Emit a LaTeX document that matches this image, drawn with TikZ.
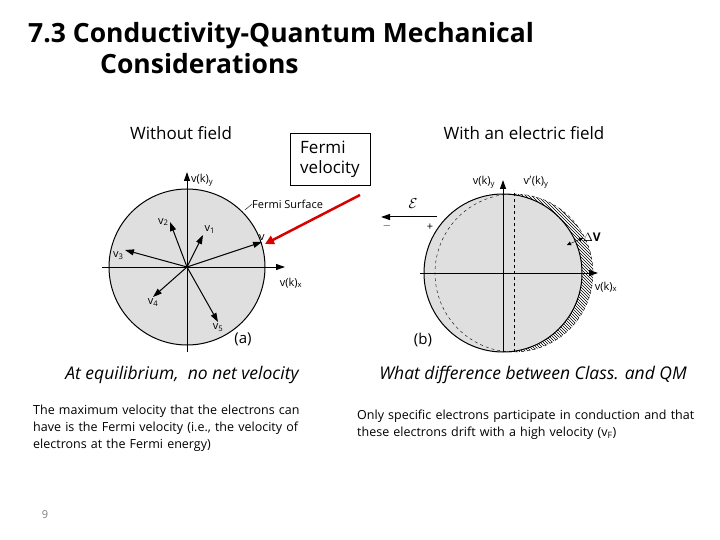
\documentclass[tikz,border=0pt]{standalone}
\usepackage{fontspec}
\setmainfont{Open Sans}
\usetikzlibrary{patterns,arrows.meta}
\newcommand{\sbs}[1]{\textsubscript{#1}}
\tikzset{vec/.style={-{Triangle[length=9pt,width=6pt]},line width=1pt}}
\begin{document}
\begin{tikzpicture}[x=1pt,y=-1pt,
  lbl/.style={font=\fontsize{11}{12}\selectfont,inner sep=1pt},
  hd/.style={font=\fontsize{17}{20}\selectfont},
  it/.style={font=\fontsize{17.5}{19}\selectfont\itshape},
  para/.style={font=\fontsize{12.5}{17}\selectfont,align=left,text width=290pt,inner sep=0pt}]
\useasboundingbox (0,0) rectangle (720,540);
\node[anchor=north west,font=\fontsize{26.5}{31}\selectfont\bfseries,align=left,inner sep=0pt] (title) at (28,22) {7.3 Conductivity-Quantum Mechanical\\\hspace{72pt}Considerations};
\node[hd] (wf) at (181,133) {Without field};
\node[hd] (ef) at (524,133) {With an electric field};
\node[draw,hd,align=left,minimum width=80pt,minimum height=52pt,inner sep=2pt] (fv) at (330,159) {Fermi\\velocity};
% left
\fill[gray!25] (187,267) circle (78);
\draw[line width=1pt] (187,267) circle (78);
\coordinate (o) at (187,267);
\coordinate (yb) at (187,352); \coordinate (yt) at (187,172);
\coordinate (xl) at (102,267); \coordinate (xr) at (285,267);
\draw[vec] (yb) -- (yt);
\node[lbl,anchor=west] (vy) at (190,180) {v(k)\sbs{y}};
\draw[vec] (xl) -- (xr);
\node[lbl] (vx) at (291,283) {v(k)\sbs{x}};
\draw[vec] (o) -- (203,235) node[lbl,anchor=south west] (v1) {v\sbs{1}};
\draw[vec] (o) -- (170,222) node[lbl,anchor=east] (v2) {v\sbs{2}};
\draw[vec] (o) -- (125,250) node[lbl,anchor=north east] (v3) {v\sbs{3}};
\draw[vec] (o) -- (153,297) node[lbl,anchor=north] (v4) {v\sbs{4}};
\draw[vec] (o) -- (218,322) node[lbl,anchor=north] (v5) {v\sbs{5}};
\draw[vec] (o) -- (262,242) node[lbl,anchor=south] (vf) {v};
\draw (245,210) -- (252,204);
\node[lbl,anchor=west] (fs) at (251,204) {Fermi Surface};
\node[font=\fontsize{15}{16}\selectfont] (a) at (243,339) {(a)};
\coordinate (rs) at (360,195); \coordinate (re) at (265,244);
\draw[red!85!black,line width=2.5pt,-{Triangle[length=9pt,width=9pt]}] (rs) -- (re);
% right
\fill[gray!25] (503,273) circle (79);
\begin{scope}
\clip (503,180) rectangle (620,360);
\fill[pattern=north west lines,even odd rule] (514,273) circle (79) (503,273) circle (79);
\end{scope}
\draw[line width=1pt] (503,273) circle (79);
\draw[dashed] (514,273) circle (79);
\coordinate (yb2) at (503,352); \coordinate (yt2) at (503,180);
\coordinate (xl2) at (420,273); \coordinate (xr2) at (598,273);
\draw[vec] (yb2) -- (yt2);
\draw[dashed] (514,352) -- (514,190);
\draw[vec] (xl2) -- (xr2);
\node[lbl] (vy2) at (484,182) {v(k)\sbs{y}};
\node[lbl] (vy3) at (536,182) {v$'$(k)\sbs{y}};
\node[lbl] (vx2) at (606,287) {v(k)\sbs{x}};
\coordinate (d1) at (567,245); \coordinate (d2) at (583,238);
\draw[{Triangle[length=4pt,width=4pt]}-{Triangle[length=4pt,width=4pt]}] (d1) -- (d2);
\node[lbl,anchor=west,font=\fontsize{12}{13}\selectfont\bfseries] (dv) at (582,237) {$\Delta$V};
\coordinate (e1) at (437,217); \coordinate (e2) at (381,217);
\draw[vec] (e1) -- (e2);
\node[font=\fontsize{15}{15}\selectfont] (E) at (413,204) {$\mathcal{E}$};
\node[lbl] at (387,226) {$-$};
\node[lbl] at (430,227) {+};
\node[font=\fontsize{15}{16}\selectfont] (b) at (423,340) {(b)};
% bottom text
\node[it] (eq) at (182,375) {At equilibrium,\ \ no net velocity};
\node[it] (q) at (533,375) {What difference between Class. and QM};
\node[para,anchor=north west] (p1) at (33,405) {The maximum velocity that the electrons can have is the Fermi velocity (i.e., the velocity of electrons at the Fermi energy)};
\node[para,anchor=north west,text width=337pt] (p2) at (357,410) {Only specific electrons participate in conduction and that these electrons drift with a high velocity (v\sbs{F})};
\node[font=\fontsize{11}{12}\selectfont,gray] (pg) at (45,515) {9};
\end{tikzpicture}
\end{document}
